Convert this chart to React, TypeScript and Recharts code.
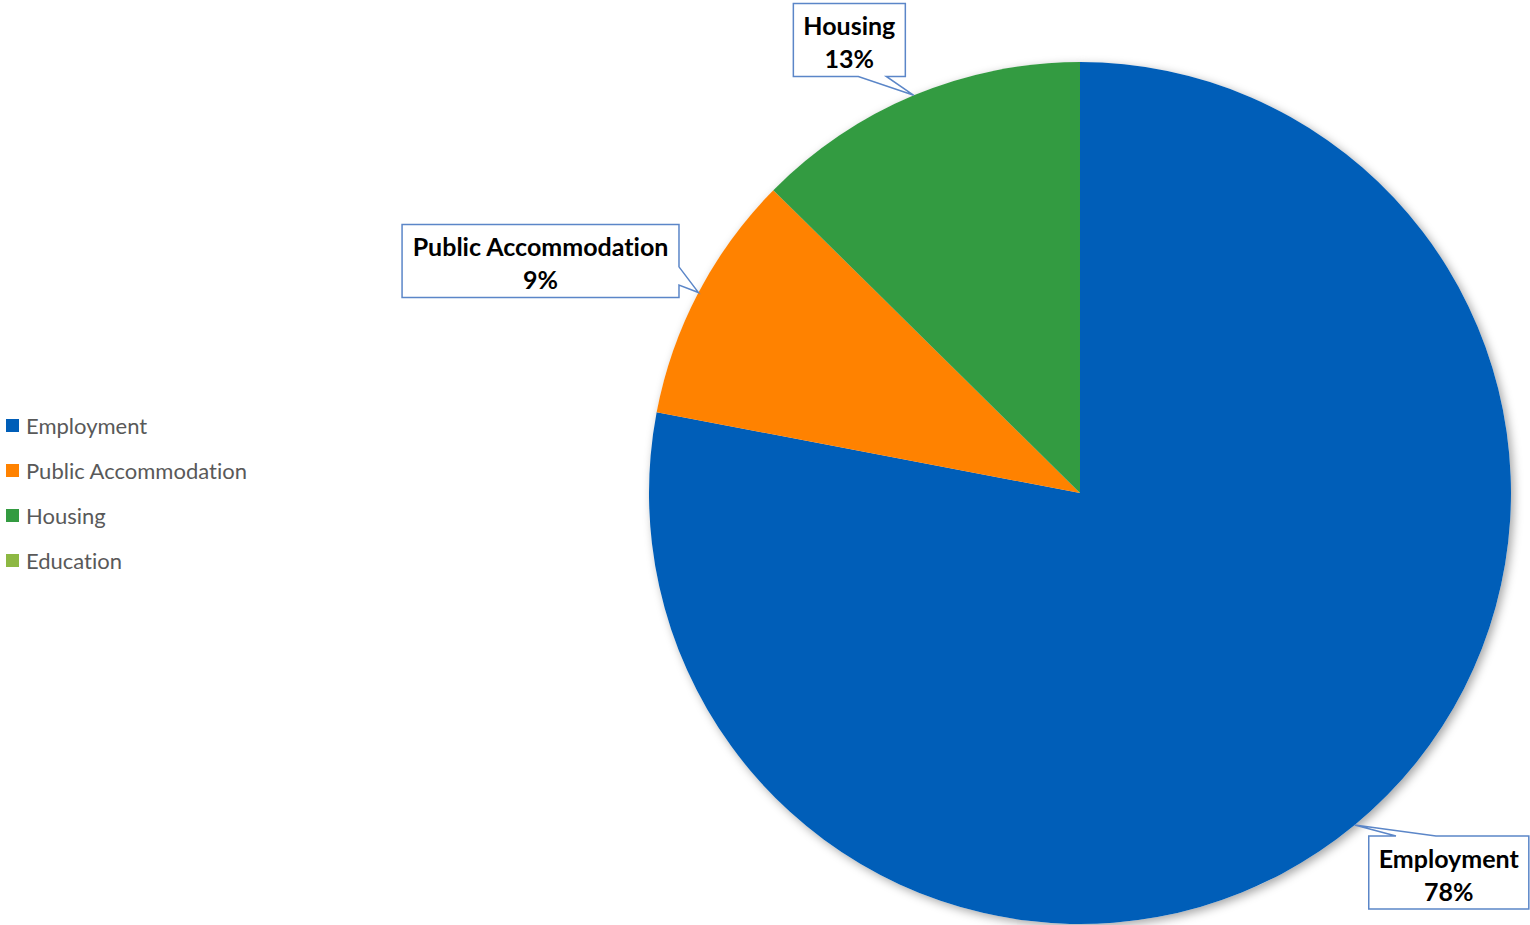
import { PieChart, Pie, Cell } from 'recharts'

const categories = ['Employment', 'Public Accommodation', 'Housing', 'Education']
const shares = [78.0, 9.4, 12.6, 0]
const colors = ['#005EB8', '#FF8200', '#339B41', '#8DB843']

const data = categories.map((name, i) => ({ name, value: shares[i] }))

const RAD = Math.PI / 180
const labelFont = 'bold 25px Lato'
const boxStroke = '#5B86C8'

let ctx: CanvasRenderingContext2D | null = null
function textWidth(s: string) {
  if (!ctx) ctx = document.createElement('canvas').getContext('2d')
  if (!ctx) return s.length * 13
  ctx.font = labelFont
  return ctx.measureText(s).width
}

// box outline with a wedge pointing at the slice edge
function calloutPath(l: number, t: number, w: number, h: number, tx: number, ty: number, side: string) {
  const r = l + w
  const b = t + h
  const f0 = 0.58
  const f1 = 0.83
  if (side === 'bottom') {
    const toRight = tx > l + w / 2
    const a = toRight ? l + w * f1 : l + w * (1 - f0)
    const c = toRight ? l + w * f0 : l + w * (1 - f1)
    return `M${l},${t}H${r}V${b}H${a}L${tx},${ty}L${c},${b}H${l}Z`
  }
  if (side === 'top') {
    const toRight = tx > l + w / 2
    const a = toRight ? l + w * f0 : l + w * (1 - f1)
    const c = toRight ? l + w * f1 : l + w * (1 - f0)
    return `M${l},${t}H${a}L${tx},${ty}L${c},${t}H${r}V${b}H${l}Z`
  }
  const down = ty > t + h / 2
  const a = down ? t + h * f0 : t + h * (1 - f1)
  const c = down ? t + h * f1 : t + h * (1 - f0)
  if (side === 'right') {
    return `M${l},${t}H${r}V${a}L${tx},${ty}L${r},${c}V${b}H${l}Z`
  }
  return `M${l},${t}H${r}V${b}H${l}V${c}L${tx},${ty}L${l},${a}Z`
}

function Callout(props: any) {
  const { cx, cy, midAngle, outerRadius, percent, name, value } = props
  if (!value) return <g />
  const c = Math.cos(midAngle * RAD)
  const s = Math.sin(midAngle * RAD)
  const tipX = cx + outerRadius * c
  const tipY = cy - outerRadius * s
  const pct = `${Math.round(percent * 100)}%`
  const w = Math.max(textWidth(name), textWidth(pct)) + 20
  const h = 73
  const side = Math.abs(c) > 0.8 ? (c < 0 ? 'right' : 'left') : s > 0 ? 'bottom' : 'top'
  const cornerX = tipX + c * 22
  const cornerY = tipY - s * s * s * 24
  const left = c < 0 ? cornerX - w : cornerX
  let top = s > 0 ? cornerY - h : cornerY
  if (side === 'left' || side === 'right') top = tipY + 5 - h
  const mid = left + w / 2
  const textStyle = { fontVariantLigatures: 'none' as const }
  return (
    <g>
      <path d={calloutPath(left, top, w, h, tipX, tipY, side)} fill="#fff" stroke={boxStroke} strokeWidth={1.5} />
      <text x={mid} y={top + h / 2 - 15} textAnchor="middle" dominantBaseline="central" fontFamily="Lato" fontWeight="bold" fontSize={25} fill="#000" style={textStyle}>
        {name}
      </text>
      <text x={mid} y={top + h / 2 + 18} textAnchor="middle" dominantBaseline="central" fontFamily="Lato" fontWeight="bold" fontSize={25} fill="#000" style={textStyle}>
        {pct}
      </text>
    </g>
  )
}

export default function App() {
  return (
    <div style={{ position: 'absolute', left: 0, top: 0, width: 1530, height: 925 }}>
      <style>{`.pie-shadow .recharts-pie-sector path { filter: drop-shadow(3px 3px 5px rgba(0,0,0,0.35)); }`}</style>
      <PieChart width={1530} height={925} margin={{ top: 0, right: 0, bottom: 0, left: 0 }}>
        <Pie
          className="pie-shadow"
          data={data}
          dataKey="value"
          nameKey="name"
          cx={1080}
          cy={493}
          outerRadius={431}
          startAngle={90}
          endAngle={-270}
          stroke="none"
          fill="#fff"
          legendType="none"
          isAnimationActive={false}
        />
        <Pie
          data={data}
          dataKey="value"
          nameKey="name"
          cx={1080}
          cy={493}
          outerRadius={431}
          startAngle={90}
          endAngle={-270}
          stroke="none"
          label={Callout}
          labelLine={false}
          isAnimationActive={false}
        >
          {data.map((d, i) => (
            <Cell key={d.name} fill={colors[i]} />
          ))}
        </Pie>
      </PieChart>
      <div style={{ position: 'absolute', left: 0, top: 403, fontFamily: 'Lato', fontSize: 22, color: '#595959', fontVariantLigatures: 'none' }}>
        {categories.map((c, i) => (
          <div key={c} style={{ height: 45, display: 'flex', alignItems: 'center', whiteSpace: 'nowrap' }}>
            <span style={{ display: 'inline-block', width: 13, height: 13, background: colors[i], marginLeft: 6, marginRight: 7 }} />
            {c}
          </div>
        ))}
      </div>
    </div>
  )
}
